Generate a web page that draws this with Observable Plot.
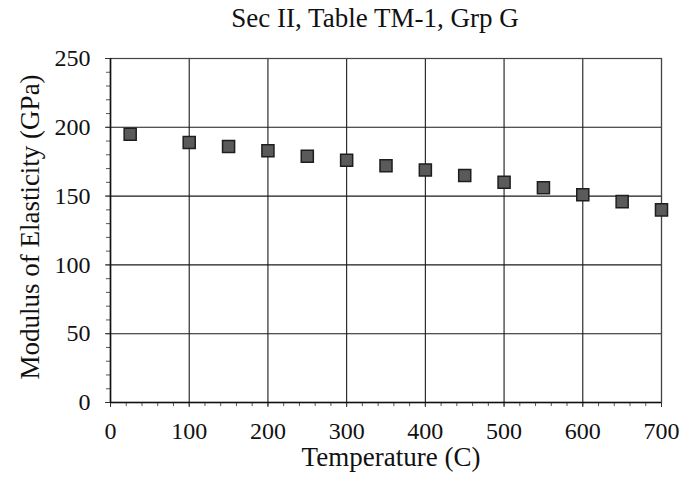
<!DOCTYPE html>
<html>
<head>
<meta charset="utf-8">
<script src="https://cdn.jsdelivr.net/npm/d3@7"></script>
<script src="https://cdn.jsdelivr.net/npm/@observablehq/plot@0.6"></script>
<style>
  html, body { margin: 0; padding: 0; background: #fff; }
  #title {
    box-sizing: border-box;
    width: 681px;
    height: 36px;
    padding-left: 69px;
    text-align: center;
    font: 27px "Liberation Serif", "DejaVu Serif", serif;
    line-height: 36px;
    color: #111;
    white-space: nowrap;
  }
</style>
</head>
<body>
<div id="title"></div>
<div id="chart"></div>
<script>
// Modulus of elasticity vs temperature (ASME Sec II, Table TM-1, Group G)
const titleText = "Sec II, Table TM-1, Grp G";
const xLabel = "Temperature (C)";
const yLabel = "Modulus of Elasticity (GPa)";

const temperatures = [25, 100, 150, 200, 250, 300, 350, 400, 450, 500, 550, 600, 650, 700];
const modulus = [195, 189, 186, 183, 179, 176, 172, 169, 165, 160, 156, 151, 146, 140];

const xTicks = [0, 100, 200, 300, 400, 500, 600, 700];
const yTicks = [0, 50, 100, 150, 200, 250];
const xMinorTicks = d3.range(0, 701, 20);
const yMinorTicks = d3.range(0, 251, 10);

const points = temperatures.map((t, i) => ({temperature: t, modulus: modulus[i]}));

document.getElementById("title").textContent = titleText;

const serif = "Liberation Serif";
const ink = "#111";

const chart = Plot.plot({
  width: 681,
  height: 442,
  marginTop: 22,
  marginBottom: 76,
  marginLeft: 110,
  marginRight: 20,
  style: {background: "#fff", color: ink, overflow: "visible"},
  x: {domain: [0, 700]},
  y: {domain: [0, 250]},
  marks: [
    Plot.gridX(xTicks, {stroke: "#1a1a1a", strokeOpacity: 1, strokeWidth: 1.1}),
    Plot.gridY(yTicks, {stroke: "#1a1a1a", strokeOpacity: 1, strokeWidth: 1.1}),
    Plot.frame({stroke: "#444", strokeWidth: 1.2}),
    // tick marks only; the numbers are drawn as text marks below
    Plot.axisX(xMinorTicks, {tickSize: 4, tickFormat: () => "", label: null, stroke: "#555"}),
    Plot.axisY(yMinorTicks, {tickSize: 4, tickFormat: () => "", label: null, stroke: "#555"}),
    Plot.axisX(xTicks, {tickSize: 5, tickFormat: () => "", label: null, stroke: "#333"}),
    Plot.axisY(yTicks, {tickSize: 5, tickFormat: () => "", label: null, stroke: "#333"}),
    Plot.ruleX([0], {stroke: ink, strokeWidth: 1.5}),
    Plot.ruleY([0], {stroke: ink, strokeWidth: 1.5}),
    // tick labels
    Plot.text(xTicks, {
      x: d => d,
      text: d => String(d),
      frameAnchor: "bottom",
      lineAnchor: "top",
      dy: 19,
      fontSize: 24,
      fontFamily: serif,
      fill: ink
    }),
    Plot.text(yTicks, {
      y: d => d,
      text: d => String(d),
      frameAnchor: "left",
      textAnchor: "end",
      lineAnchor: "middle",
      dx: -20,
      fontSize: 24,
      fontFamily: serif,
      fill: ink
    }),
    Plot.dot(points, {
      x: "temperature",
      y: "modulus",
      symbol: "square",
      r: 6.8,
      fill: "#5a5a5a",
      stroke: "#1e1e1e",
      strokeWidth: 1.5
    }),
    // axis titles
    Plot.text([xLabel], {
      text: d => d,
      frameAnchor: "bottom",
      textAnchor: "middle",
      dx: 5,
      dy: 63,
      lineAnchor: "bottom",
      fontSize: 27,
      fontFamily: serif,
      fill: ink
    }),
    Plot.text([yLabel], {
      text: d => d,
      frameAnchor: "left",
      textAnchor: "middle",
      rotate: -90,
      dx: -72,
      dy: -3.5,
      lineAnchor: "bottom",
      fontSize: 27,
      fontFamily: serif,
      fill: ink
    })
  ]
});

document.getElementById("chart").appendChild(chart);
</script>
</body>
</html>
